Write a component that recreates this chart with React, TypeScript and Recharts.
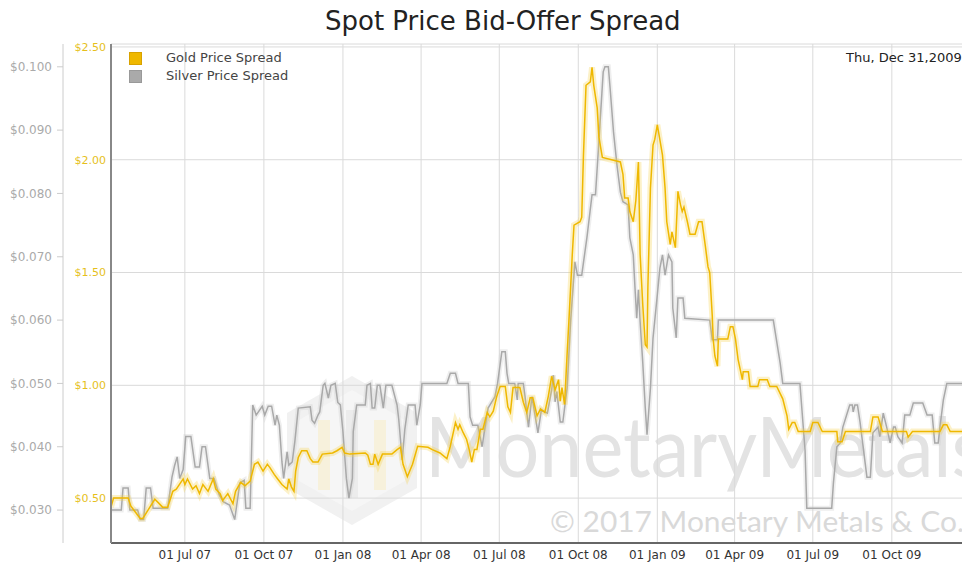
import React from "react";
import { CartesianGrid, Line, LineChart, XAxis, YAxis } from "recharts";

const MONTHS = ["Jan", "Feb", "Mar", "Apr", "May", "Jun", "Jul", "Aug", "Sep", "Oct", "Nov", "Dec"];

const dateRange = ["2007-04-06", "2009-12-31"];
const quarterTicks = [
  "2007-07-01", "2007-10-01", "2008-01-01", "2008-04-01", "2008-07-01",
  "2008-10-01", "2009-01-01", "2009-04-01", "2009-07-01", "2009-10-01"
];
const goldTicks = [0.5, 1, 1.5, 2, 2.5];
const silverTicks = [0.03, 0.04, 0.05, 0.06, 0.07, 0.08, 0.09, 0.1];

// [date, spread in $]
const goldSpread: [string, number][] = [
  ["2007-04-06", 0.46], ["2007-04-09", 0.5], ["2007-04-26", 0.5], ["2007-04-29", 0.465],
  ["2007-05-10", 0.41], ["2007-05-13", 0.41], ["2007-05-18", 0.44], ["2007-05-27", 0.495],
  ["2007-05-31", 0.48], ["2007-06-05", 0.46], ["2007-06-11", 0.46], ["2007-06-17", 0.53],
  ["2007-06-21", 0.54], ["2007-06-29", 0.585], ["2007-07-01", 0.56], ["2007-07-04", 0.585],
  ["2007-07-10", 0.54], ["2007-07-14", 0.555], ["2007-07-18", 0.52], ["2007-07-22", 0.56],
  ["2007-07-28", 0.53], ["2007-08-03", 0.585], ["2007-08-06", 0.54], ["2007-08-11", 0.52],
  ["2007-08-14", 0.49], ["2007-08-20", 0.52], ["2007-08-26", 0.475], ["2007-08-29", 0.53],
  ["2007-09-04", 0.57], ["2007-09-09", 0.555], ["2007-09-15", 0.575], ["2007-09-20", 0.65],
  ["2007-09-24", 0.66], ["2007-09-30", 0.62], ["2007-10-05", 0.65], ["2007-10-08", 0.635],
  ["2007-10-13", 0.605], ["2007-10-17", 0.585], ["2007-10-22", 0.56], ["2007-10-28", 0.54],
  ["2007-10-30", 0.585], ["2007-11-02", 0.55], ["2007-11-05", 0.53], ["2007-11-07", 0.62],
  ["2007-11-10", 0.68], ["2007-11-14", 0.71], ["2007-11-20", 0.71], ["2007-11-24", 0.675],
  ["2007-11-27", 0.66], ["2007-12-03", 0.66], ["2007-12-08", 0.695], ["2007-12-20", 0.7],
  ["2007-12-25", 0.71], ["2007-12-31", 0.725], ["2008-01-03", 0.7], ["2008-01-09", 0.695],
  ["2008-01-27", 0.7], ["2008-01-30", 0.69], ["2008-02-02", 0.65], ["2008-02-05", 0.65],
  ["2008-02-07", 0.695], ["2008-02-11", 0.65], ["2008-02-16", 0.695], ["2008-02-27", 0.695],
  ["2008-03-04", 0.715], ["2008-03-08", 0.725], ["2008-03-11", 0.65], ["2008-03-16", 0.595],
  ["2008-03-22", 0.65], ["2008-03-28", 0.73], ["2008-04-09", 0.725], ["2008-04-14", 0.715],
  ["2008-04-23", 0.7], ["2008-05-01", 0.675], ["2008-05-05", 0.73], ["2008-05-11", 0.835],
  ["2008-05-14", 0.805], ["2008-05-16", 0.825], ["2008-05-20", 0.79], ["2008-05-24", 0.76],
  ["2008-05-27", 0.715], ["2008-05-30", 0.66], ["2008-06-02", 0.715], ["2008-06-05", 0.715],
  ["2008-06-09", 0.805], ["2008-06-12", 0.805], ["2008-06-17", 0.88], ["2008-06-20", 0.86],
  ["2008-06-24", 0.885], ["2008-06-28", 0.95], ["2008-07-02", 0.995], ["2008-07-08", 0.995],
  ["2008-07-11", 0.905], ["2008-07-14", 0.88], ["2008-07-17", 0.99], ["2008-07-25", 0.99],
  ["2008-07-29", 0.925], ["2008-08-02", 0.88], ["2008-08-06", 0.945], ["2008-08-09", 0.945],
  ["2008-08-14", 0.865], ["2008-08-18", 0.895], ["2008-08-23", 0.88], ["2008-08-27", 0.95],
  ["2008-08-31", 1.04], ["2008-09-04", 0.98], ["2008-09-08", 1.025], ["2008-09-10", 0.93],
  ["2008-09-12", 0.99], ["2008-09-15", 0.915], ["2008-09-18", 1.14], ["2008-09-20", 1.28],
  ["2008-09-24", 1.58], ["2008-09-26", 1.71], ["2008-10-03", 1.725], ["2008-10-05", 1.745],
  ["2008-10-07", 2.02], ["2008-10-10", 2.33], ["2008-10-15", 2.345], ["2008-10-17", 2.41],
  ["2008-10-19", 2.33], ["2008-10-23", 2.23], ["2008-10-25", 2.1], ["2008-10-29", 2.01],
  ["2008-11-19", 1.99], ["2008-11-22", 1.935], ["2008-11-24", 1.83], ["2008-11-28", 1.83],
  ["2008-11-30", 1.77], ["2008-12-04", 1.725], ["2008-12-07", 1.82], ["2008-12-10", 1.99],
  ["2008-12-12", 1.58], ["2008-12-15", 1.36], ["2008-12-18", 1.18], ["2008-12-20", 1.17],
  ["2008-12-21", 1.435], ["2008-12-24", 1.875], ["2008-12-27", 2.065], ["2008-12-29", 2.09],
  ["2009-01-01", 2.155], ["2009-01-03", 2.11], ["2009-01-07", 2.02], ["2009-01-10", 1.875],
  ["2009-01-12", 1.725], ["2009-01-16", 1.625], ["2009-01-18", 1.68], ["2009-01-22", 1.61],
  ["2009-01-25", 1.86], ["2009-01-28", 1.8], ["2009-01-30", 1.77], ["2009-02-01", 1.79],
  ["2009-02-05", 1.725], ["2009-02-08", 1.67], ["2009-02-14", 1.67], ["2009-02-18", 1.725],
  ["2009-02-22", 1.725], ["2009-02-26", 1.615], ["2009-03-01", 1.525], ["2009-03-03", 1.5],
  ["2009-03-06", 1.305], ["2009-03-07", 1.205], ["2009-03-09", 1.13], ["2009-03-12", 1.085],
  ["2009-03-13", 1.205], ["2009-03-24", 1.205], ["2009-03-27", 1.26], ["2009-03-30", 1.26],
  ["2009-04-02", 1.205], ["2009-04-05", 1.115], ["2009-04-10", 1.025], ["2009-04-11", 1.06],
  ["2009-04-17", 1.06], ["2009-04-19", 0.995], ["2009-04-28", 0.995], ["2009-04-30", 1.025],
  ["2009-05-09", 1.025], ["2009-05-12", 0.995], ["2009-05-20", 0.995], ["2009-05-27", 0.94],
  ["2009-06-01", 0.865], ["2009-06-03", 0.805], ["2009-06-07", 0.835], ["2009-06-10", 0.835],
  ["2009-06-14", 0.795], ["2009-06-28", 0.795], ["2009-07-01", 0.835], ["2009-07-07", 0.835],
  ["2009-07-12", 0.795], ["2009-07-29", 0.795], ["2009-07-30", 0.75], ["2009-08-04", 0.75],
  ["2009-08-08", 0.795], ["2009-09-06", 0.795], ["2009-09-09", 0.86], ["2009-09-15", 0.86],
  ["2009-09-20", 0.795], ["2009-10-18", 0.795], ["2009-10-20", 0.77], ["2009-10-25", 0.795],
  ["2009-11-26", 0.795], ["2009-11-30", 0.825], ["2009-12-04", 0.825], ["2009-12-08", 0.795],
  ["2009-12-31", 0.795]
];

const silverSpread: [string, number][] = [
  ["2007-04-06", 0.03], ["2007-04-18", 0.03], ["2007-04-20", 0.0335], ["2007-04-26", 0.0335],
  ["2007-04-28", 0.03], ["2007-05-07", 0.03], ["2007-05-10", 0.0285], ["2007-05-14", 0.0285],
  ["2007-05-17", 0.0335], ["2007-05-22", 0.0335], ["2007-05-25", 0.0303], ["2007-06-11", 0.0303],
  ["2007-06-16", 0.0352], ["2007-06-19", 0.037], ["2007-06-22", 0.0384], ["2007-06-25", 0.035],
  ["2007-06-29", 0.0364], ["2007-07-02", 0.0416], ["2007-07-08", 0.0416], ["2007-07-13", 0.0368],
  ["2007-07-18", 0.0368], ["2007-07-21", 0.04], ["2007-07-25", 0.04], ["2007-07-30", 0.035],
  ["2007-08-04", 0.035], ["2007-08-10", 0.0324], ["2007-08-15", 0.0313], ["2007-08-22", 0.0308],
  ["2007-08-28", 0.0285], ["2007-09-03", 0.0343], ["2007-09-08", 0.0347], ["2007-09-10", 0.0303],
  ["2007-09-15", 0.0303], ["2007-09-18", 0.0466], ["2007-09-22", 0.045], ["2007-09-29", 0.0464],
  ["2007-10-02", 0.045], ["2007-10-06", 0.0464], ["2007-10-10", 0.0464], ["2007-10-14", 0.0434],
  ["2007-10-16", 0.045], ["2007-10-19", 0.0434], ["2007-10-22", 0.0376], ["2007-10-24", 0.035],
  ["2007-10-28", 0.0392], ["2007-10-30", 0.0371], ["2007-11-03", 0.0376], ["2007-11-06", 0.0408],
  ["2007-11-10", 0.0461], ["2007-11-24", 0.0463], ["2007-11-26", 0.0442], ["2007-11-29", 0.0437],
  ["2007-12-03", 0.045], ["2007-12-05", 0.0455], ["2007-12-09", 0.0497], ["2007-12-11", 0.05],
  ["2007-12-15", 0.0477], ["2007-12-18", 0.0497], ["2007-12-23", 0.05], ["2007-12-26", 0.047],
  ["2007-12-29", 0.0466], ["2008-01-01", 0.0424], ["2008-01-05", 0.035], ["2008-01-08", 0.0319],
  ["2008-01-12", 0.035], ["2008-01-13", 0.0424], ["2008-01-17", 0.0466], ["2008-01-27", 0.0466],
  ["2008-01-29", 0.0497], ["2008-02-02", 0.05], ["2008-02-04", 0.0461], ["2008-02-07", 0.0461],
  ["2008-02-10", 0.0497], ["2008-02-13", 0.0497], ["2008-02-17", 0.0461], ["2008-02-20", 0.0497],
  ["2008-02-27", 0.0497], ["2008-03-04", 0.0466], ["2008-03-06", 0.0443], ["2008-03-10", 0.0379],
  ["2008-03-13", 0.0427], ["2008-03-17", 0.0466], ["2008-03-25", 0.0466], ["2008-03-27", 0.0434],
  ["2008-03-31", 0.0466], ["2008-04-02", 0.05], ["2008-05-01", 0.05], ["2008-05-05", 0.0516],
  ["2008-05-11", 0.0516], ["2008-05-14", 0.05], ["2008-05-26", 0.05], ["2008-05-28", 0.0447],
  ["2008-05-31", 0.0434], ["2008-06-06", 0.0434], ["2008-06-11", 0.04], ["2008-06-14", 0.0427],
  ["2008-06-18", 0.0461], ["2008-06-26", 0.0479], ["2008-06-29", 0.05], ["2008-07-04", 0.055],
  ["2008-07-08", 0.055], ["2008-07-10", 0.0516], ["2008-07-12", 0.05], ["2008-07-19", 0.05],
  ["2008-07-22", 0.0474], ["2008-07-23", 0.05], ["2008-07-29", 0.05], ["2008-07-31", 0.0479],
  ["2008-08-04", 0.0431], ["2008-08-08", 0.0479], ["2008-08-12", 0.0447], ["2008-08-15", 0.0422],
  ["2008-08-19", 0.0458], ["2008-08-26", 0.0453], ["2008-08-31", 0.049], ["2008-09-02", 0.0513],
  ["2008-09-04", 0.0471], ["2008-09-06", 0.0487], ["2008-09-10", 0.0439], ["2008-09-13", 0.0439],
  ["2008-09-18", 0.0493], ["2008-09-22", 0.0597], ["2008-09-27", 0.0692], ["2008-09-30", 0.0671],
  ["2008-10-05", 0.0671], ["2008-10-11", 0.073], ["2008-10-17", 0.0798], ["2008-10-21", 0.0798],
  ["2008-10-24", 0.0861], ["2008-10-30", 0.0992], ["2008-11-01", 0.1], ["2008-11-05", 0.1],
  ["2008-11-07", 0.0967], ["2008-11-11", 0.0897], ["2008-11-15", 0.0845], ["2008-11-19", 0.0802],
  ["2008-11-22", 0.0787], ["2008-11-28", 0.0782], ["2008-11-30", 0.073], ["2008-12-04", 0.0703],
  ["2008-12-06", 0.0651], ["2008-12-08", 0.0603], ["2008-12-10", 0.0648], ["2008-12-12", 0.0597],
  ["2008-12-15", 0.0534], ["2008-12-18", 0.0461], ["2008-12-20", 0.0419], ["2008-12-24", 0.0493],
  ["2008-12-27", 0.0572], ["2009-01-01", 0.064], ["2009-01-04", 0.0682], ["2009-01-07", 0.0703],
  ["2009-01-10", 0.0671], ["2009-01-14", 0.0703], ["2009-01-18", 0.0692], ["2009-01-19", 0.0619],
  ["2009-01-23", 0.0572], ["2009-01-25", 0.0635], ["2009-01-31", 0.0635], ["2009-02-02", 0.0603],
  ["2009-03-03", 0.06], ["2009-03-06", 0.0569], ["2009-03-12", 0.0569], ["2009-03-13", 0.06],
  ["2009-05-16", 0.06], ["2009-05-24", 0.0532], ["2009-05-27", 0.05], ["2009-06-16", 0.05],
  ["2009-06-22", 0.0394], ["2009-06-24", 0.0303], ["2009-07-23", 0.0303], ["2009-07-25", 0.0343],
  ["2009-07-29", 0.04], ["2009-08-02", 0.0406], ["2009-08-05", 0.0431], ["2009-08-10", 0.0453],
  ["2009-08-13", 0.0466], ["2009-08-16", 0.0466], ["2009-08-17", 0.0455], ["2009-08-19", 0.0466],
  ["2009-08-22", 0.0466], ["2009-08-25", 0.0439], ["2009-09-02", 0.0352], ["2009-09-06", 0.0352],
  ["2009-09-09", 0.0422], ["2009-09-15", 0.0431], ["2009-09-17", 0.0416], ["2009-09-21", 0.0453],
  ["2009-09-25", 0.0431], ["2009-09-29", 0.0406], ["2009-10-03", 0.0431], ["2009-10-05", 0.0431],
  ["2009-10-08", 0.0416], ["2009-10-13", 0.0406], ["2009-10-16", 0.045], ["2009-10-22", 0.045],
  ["2009-10-26", 0.0469], ["2009-11-06", 0.0469], ["2009-11-11", 0.045], ["2009-11-17", 0.045],
  ["2009-11-20", 0.0406], ["2009-11-24", 0.0406], ["2009-11-26", 0.0431], ["2009-11-30", 0.0474],
  ["2009-12-04", 0.05], ["2009-12-31", 0.05]
];

const toTime = (d: string) => Date.parse(d + "T00:00:00Z");

const fmtDate = (t: number) => {
  const d = new Date(t);
  const dd = String(d.getUTCDate()).padStart(2, "0");
  return `${dd} ${MONTHS[d.getUTCMonth()]} ${String(d.getUTCFullYear()).slice(2)}`;
};

const GOLD = "#efb800";
const SILVER = "#a9a9a9";
const FONT = "'DejaVu Sans', sans-serif";

function Watermark(): JSX.Element {
  return (
    <svg width={962} height={562} style={{ position: "absolute", left: 0, top: 0 }}>
      <polygon points="352,376 417,413 417,488 352,525 287,488 287,413" fill="#f1f1f1" />
      <polygon points="352,390 405,420 405,481 352,511 299,481 299,420" fill="#f6f6f6" />
      <rect x={318} y={420} width={12} height={70} fill="#f7f1dc" />
      <rect x={346} y={410} width={12} height={88} fill="#ececec" />
      <rect x={374} y={420} width={12} height={70} fill="#f7f1dc" />
      <text x={425} y={477} fontFamily="Lato, sans-serif" fontSize={84} fill="#e3e3e3" textLength={560} lengthAdjust="spacingAndGlyphs">
        MonetaryMetals
      </text>
      <text x={550} y={532} fontFamily="Lato, sans-serif" fontSize={28} fill="#d9d9d9" textLength={414} lengthAdjust="spacingAndGlyphs">
        © 2017 Monetary Metals &amp; Co.
      </text>
    </svg>
  );
}

export default function App(): JSX.Element {
  const goldData = goldSpread.map(([d, v]) => ({ t: toTime(d), v }));
  const silverData = silverSpread.map(([d, v]) => ({ t: toTime(d), v }));
  const xDomain = [toTime(dateRange[0]), toTime(dateRange[1])];
  const xTicks = quarterTicks.map(toTime);

  return (
    <div style={{ position: "fixed", left: 0, top: 0, width: 962, height: 562, overflow: "hidden", background: "#fff", fontFamily: FONT }}>
      <Watermark />

      <div style={{ position: "absolute", left: 0, top: 0 }}>
        <LineChart width={980} height={562} margin={{ top: 44, right: 10, bottom: 0, left: 7 }}>
          <CartesianGrid yAxisId="gold" stroke="#dadada" strokeWidth={1} />
          <XAxis
            type="number"
            dataKey="t"
            domain={xDomain}
            allowDataOverflow
            ticks={xTicks}
            tickFormatter={fmtDate}
            height={19}
            tickSize={0}
            tickMargin={7}
            tickLine={false}
            axisLine={{ stroke: "#666", strokeWidth: 2 }}
            tick={{ fill: "#333", fontSize: 12 }}
          />
          <XAxis
            xAxisId="top"
            orientation="top"
            type="number"
            dataKey="t"
            domain={xDomain}
            allowDataOverflow
            height={0}
            tick={false}
            tickLine={false}
            axisLine={{ stroke: "#999" }}
          />
          <YAxis
            yAxisId="gold"
            type="number"
            domain={[0.301, 2.513]}
            allowDataOverflow
            ticks={goldTicks}
            tickFormatter={(v: number) => `$${v.toFixed(2)}`}
            width={48}
            tickSize={0}
            tickMargin={5}
            tickLine={false}
            axisLine={{ stroke: "#888", strokeWidth: 2 }}
            tick={{ fill: "#e6bf1c", fontSize: 11 }}
          />
          <YAxis
            yAxisId="silver"
            type="number"
            domain={[0.0248, 0.1036]}
            allowDataOverflow
            ticks={silverTicks}
            tickFormatter={(v: number) => `$${v.toFixed(3)}`}
            width={56}
            tickSize={6}
            tickMargin={5}
            tickLine={{ stroke: "#ccc" }}
            axisLine={{ stroke: "#ccc" }}
            tick={{ fill: "#aaa", fontSize: 12 }}
          />

          <Line data={silverData} yAxisId="silver" dataKey="v" type="linear" stroke="#cfcfcf" strokeOpacity={0.35} strokeWidth={5} dot={false} activeDot={false} isAnimationActive={false} />
          <Line data={silverData} yAxisId="silver" dataKey="v" type="linear" stroke={SILVER} strokeWidth={1.5} dot={false} activeDot={false} isAnimationActive={false} />
          <Line data={goldData} yAxisId="gold" dataKey="v" type="linear" stroke="#f6d24a" strokeOpacity={0.3} strokeWidth={6} dot={false} activeDot={false} isAnimationActive={false} />
          <Line data={goldData} yAxisId="gold" dataKey="v" type="linear" stroke={GOLD} strokeWidth={1.5} dot={false} activeDot={false} isAnimationActive={false} />
        </LineChart>
      </div>

      <div style={{ position: "absolute", left: 325, top: 6, fontSize: 26, color: "#222", whiteSpace: "nowrap" }}>
        Spot Price Bid-Offer Spread
      </div>

      {/* legend */}
      <div style={{ position: "absolute", left: 129, top: 52, width: 11, height: 11, background: GOLD, border: "1px solid #d8a200" }} />
      <div style={{ position: "absolute", left: 129, top: 70, width: 11, height: 11, background: "#aaa", border: "1px solid #999" }} />
      <div style={{ position: "absolute", left: 166, top: 50, fontSize: 13, color: "#444", whiteSpace: "nowrap", lineHeight: "16px" }}>Gold Price Spread</div>
      <div style={{ position: "absolute", left: 166, top: 68, fontSize: 13, color: "#444", whiteSpace: "nowrap", lineHeight: "16px" }}>Silver Price Spread</div>

      <div style={{ position: "absolute", left: 846, top: 50, fontSize: 13, color: "#222", whiteSpace: "nowrap", lineHeight: "16px" }}>
        Thu, Dec 31,2009
      </div>
    </div>
  );
}
